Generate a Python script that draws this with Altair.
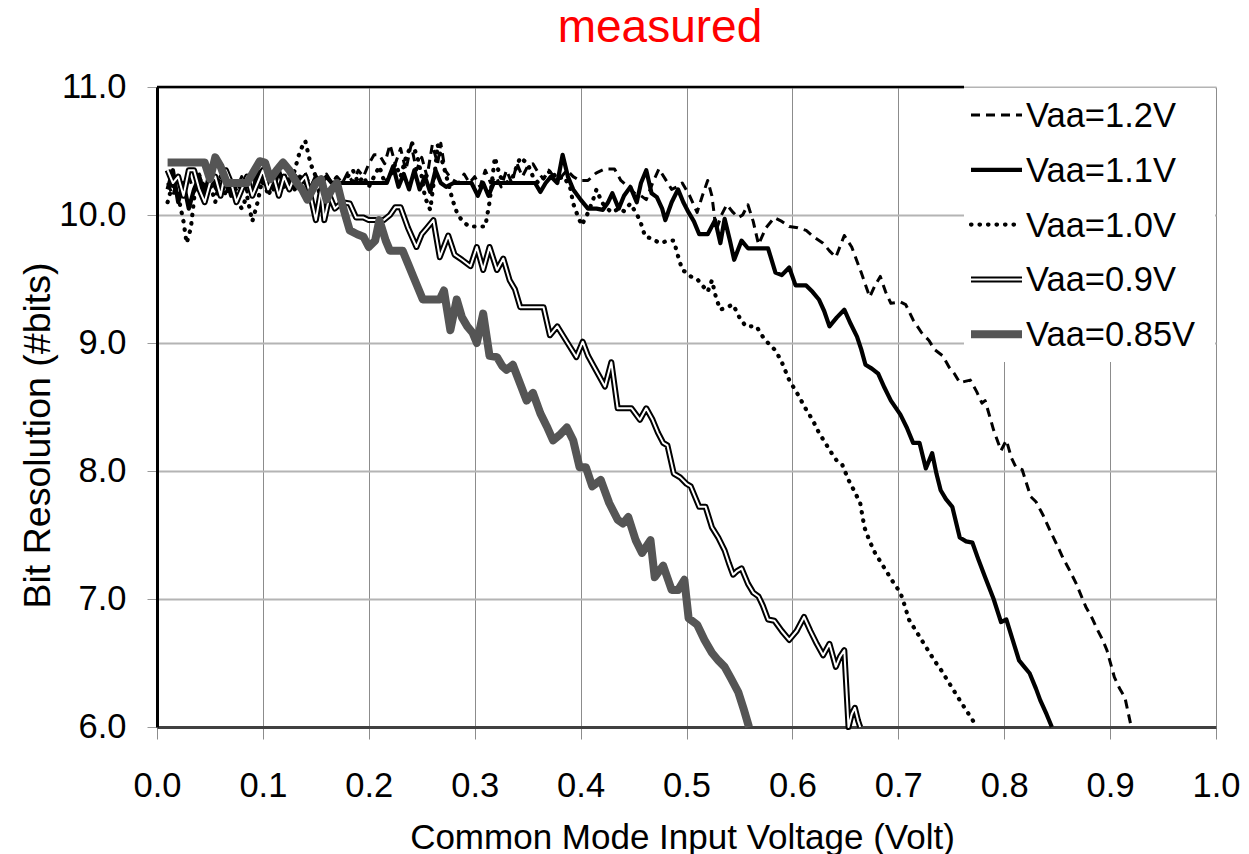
import altair as alt
import pandas as pd

# ---------------- data ----------------
chart_title = "measured"
x_ticks = [0.0, 0.1, 0.2, 0.3, 0.4, 0.5, 0.6, 0.7, 0.8, 0.9, 1.0]
y_ticks = [6.0, 7.0, 8.0, 9.0, 10.0, 11.0]
series_names = ["Vaa=1.2V", "Vaa=1.1V", "Vaa=1.0V", "Vaa=0.9V", "Vaa=0.85V"]

vaa_12 = [(0.010,10.25),(0.015,10.15),(0.020,10.30),(0.025,10.20),(0.030,10.30),(0.035,10.18),(0.040,10.32),(0.045,10.22),
          (0.050,10.35),(0.055,10.20),(0.060,10.30),(0.065,10.18),(0.070,10.28),(0.075,10.20),(0.080,10.30),(0.085,10.18),
          (0.090,10.32),(0.095,10.22),(0.100,10.35),(0.105,10.20),(0.110,10.30),(0.115,10.22),(0.120,10.33),(0.125,10.22),
          (0.130,10.30),(0.135,10.25),(0.140,10.33),(0.145,10.22),(0.150,10.30),(0.155,10.25),(0.160,10.32),(0.165,10.25),
          (0.170,10.30),(0.175,10.25),(0.180,10.33),(0.185,10.25),(0.190,10.35),(0.195,10.30),(0.200,10.40),(0.205,10.47),
          (0.210,10.47),(0.215,10.40),(0.220,10.55),(0.225,10.40),(0.230,10.52),(0.235,10.35),(0.240,10.55),(0.245,10.35),
          (0.250,10.45),(0.255,10.30),(0.260,10.55),(0.265,10.40),(0.268,10.56),(0.272,10.35),(0.278,10.28),(0.285,10.25),
          (0.290,10.32),(0.295,10.25),(0.300,10.30),(0.305,10.22),(0.310,10.35),(0.315,10.25),(0.320,10.30),(0.325,10.22),
          (0.330,10.35),(0.335,10.25),(0.340,10.40),(0.345,10.30),(0.350,10.38),(0.355,10.40),(0.360,10.33),(0.365,10.28),
          (0.370,10.35),(0.375,10.30),(0.380,10.28),(0.387,10.35),(0.393,10.30),(0.399,10.27),(0.407,10.27),(0.415,10.33),
          (0.423,10.36),(0.432,10.36),(0.438,10.27),(0.445,10.22),(0.451,10.17),(0.457,10.15),(0.462,10.12),(0.468,10.25),
          (0.474,10.36),(0.480,10.28),(0.486,10.20),(0.491,10.22),(0.496,10.25),(0.503,10.15),(0.510,10.02),(0.515,10.15),
          (0.520,10.27),(0.524,10.15),(0.528,9.88),(0.533,10.00),(0.538,10.08),(0.544,10.02),(0.549,9.98),(0.553,10.00),
          (0.558,10.08),(0.563,9.95),(0.568,9.77),(0.575,9.90),(0.583,9.98),(0.590,9.95),(0.597,9.91),(0.605,9.90),
          (0.613,9.88),(0.620,9.83),(0.629,9.78),(0.635,9.72),(0.641,9.67),(0.649,9.84),(0.656,9.75),(0.665,9.55),
          (0.673,9.36),(0.678,9.45),(0.683,9.52),(0.688,9.40),(0.693,9.31),(0.702,9.32),(0.707,9.30),(0.714,9.18),
          (0.722,9.08),(0.729,9.02),(0.734,8.95),(0.742,8.90),(0.748,8.81),(0.753,8.76),(0.758,8.69),(0.763,8.70),
          (0.768,8.71),(0.774,8.62),(0.779,8.53),(0.782,8.55),(0.790,8.32),(0.797,8.16),(0.802,8.24),(0.807,8.10),
          (0.811,8.03),(0.817,8.01),(0.825,7.80),(0.830,7.76),(0.837,7.65),(0.843,7.54),(0.850,7.42),(0.855,7.33),
          (0.862,7.22),(0.868,7.12),(0.877,6.94),(0.883,6.85),(0.888,6.76),(0.893,6.68),(0.897,6.60),(0.904,6.39),
          (0.909,6.30),(0.914,6.23),(0.920,6.00)]

vaa_11 = [(0.010,10.20),(0.015,10.35),(0.020,10.10),(0.025,10.25),(0.030,10.05),(0.035,10.20),(0.040,10.30),(0.045,10.15),
          (0.050,10.35),(0.055,10.22),(0.060,10.15),(0.065,10.30),(0.070,10.15),(0.075,10.25),(0.080,10.20),(0.085,10.30),
          (0.090,10.15),(0.095,10.35),(0.100,10.25),(0.105,10.30),(0.110,10.20),(0.115,10.35),(0.120,10.22),(0.125,10.28),
          (0.130,10.20),(0.135,10.30),(0.140,10.25),(0.145,10.20),(0.150,10.30),(0.155,10.25),(0.160,10.30),(0.165,10.25),
          (0.170,10.25),(0.180,10.25),(0.190,10.25),(0.200,10.25),(0.210,10.25),(0.217,10.25),(0.223,10.38),(0.228,10.22),
          (0.233,10.32),(0.238,10.20),(0.243,10.35),(0.248,10.20),(0.253,10.30),(0.258,10.18),(0.263,10.35),(0.268,10.25),
          (0.273,10.22),(0.280,10.25),(0.290,10.25),(0.297,10.25),(0.303,10.15),(0.308,10.25),(0.313,10.15),(0.318,10.25),
          (0.330,10.25),(0.340,10.25),(0.350,10.25),(0.357,10.25),(0.362,10.18),(0.367,10.25),(0.372,10.30),(0.378,10.25),
          (0.383,10.47),(0.388,10.30),(0.393,10.20),(0.400,10.12),(0.407,10.05),(0.415,10.05),(0.421,10.04),(0.426,10.10),
          (0.430,10.17),(0.436,10.05),(0.441,10.15),(0.447,10.22),(0.453,10.10),(0.457,10.25),(0.462,10.35),(0.467,10.17),
          (0.472,10.14),(0.477,10.05),(0.480,9.96),(0.486,10.10),(0.492,10.20),(0.497,10.10),(0.502,10.02),(0.507,9.95),
          (0.512,9.85),(0.520,9.85),(0.527,9.96),(0.532,9.78),(0.536,9.97),(0.541,9.80),(0.545,9.65),(0.552,9.80),
          (0.558,9.74),(0.568,9.74),(0.577,9.74),(0.584,9.55),(0.590,9.53),(0.597,9.59),(0.603,9.45),(0.613,9.45),
          (0.619,9.40),(0.625,9.34),(0.630,9.25),(0.635,9.13),(0.642,9.20),(0.649,9.26),(0.655,9.15),(0.661,9.05),
          (0.665,8.95),(0.669,8.83),(0.675,8.80),(0.681,8.76),(0.687,8.65),(0.693,8.55),(0.702,8.44),(0.708,8.34),
          (0.714,8.22),(0.720,8.22),(0.726,8.02),(0.732,8.14),(0.736,7.98),(0.740,7.85),(0.745,7.78),(0.751,7.72),
          (0.758,7.48),(0.764,7.45),(0.770,7.44),(0.776,7.30),(0.782,7.17),(0.790,7.00),(0.797,6.82),(0.802,6.84),
          (0.808,6.68),(0.814,6.52),(0.819,6.47),(0.824,6.42),(0.830,6.30),(0.834,6.21),(0.840,6.10),(0.845,6.00)]

vaa_10 = [(0.010,10.10),(0.015,10.25),(0.020,10.15),(0.025,9.95),(0.028,9.78),(0.032,9.90),(0.036,10.20),(0.040,10.30),
          (0.045,10.15),(0.050,10.25),(0.055,10.10),(0.060,10.30),(0.065,10.15),(0.070,10.28),(0.075,10.12),(0.080,10.05),
          (0.085,10.15),(0.090,9.95),(0.095,10.10),(0.100,10.30),(0.105,10.15),(0.110,10.25),(0.115,10.15),(0.120,10.30),
          (0.125,10.20),(0.130,10.35),(0.135,10.50),(0.140,10.58),(0.145,10.40),(0.150,10.30),(0.155,10.10),(0.158,9.96),
          (0.163,10.15),(0.168,10.30),(0.175,10.25),(0.180,10.30),(0.185,10.35),(0.190,10.25),(0.195,10.30),(0.200,10.22),
          (0.205,10.30),(0.210,10.38),(0.215,10.25),(0.220,10.30),(0.225,10.40),(0.230,10.30),(0.235,10.45),(0.241,10.56),
          (0.246,10.45),(0.250,10.30),(0.253,10.14),(0.258,10.04),(0.262,10.30),(0.265,10.55),(0.270,10.40),(0.275,10.25),
          (0.279,10.12),(0.284,10.00),(0.290,9.94),(0.295,9.91),(0.303,9.91),(0.310,9.91),(0.314,10.10),(0.319,10.45),
          (0.324,10.30),(0.330,10.25),(0.336,10.30),(0.343,10.45),(0.350,10.40),(0.355,10.30),(0.360,10.25),(0.366,10.30),
          (0.372,10.35),(0.378,10.28),(0.384,10.30),(0.390,10.22),(0.393,10.09),(0.397,10.00),(0.401,9.92),(0.406,10.00),
          (0.411,10.10),(0.415,10.20),(0.420,10.10),(0.425,10.05),(0.430,10.02),(0.436,10.05),(0.441,10.03),(0.447,10.09),
          (0.452,10.02),(0.456,9.96),(0.461,9.83),(0.466,9.82),(0.470,9.80),(0.476,9.78),(0.482,9.80),(0.488,9.80),
          (0.492,9.68),(0.496,9.57),(0.500,9.55),(0.504,9.52),(0.510,9.50),(0.516,9.44),(0.520,9.40),(0.524,9.49),
          (0.528,9.35),(0.532,9.26),(0.538,9.28),(0.544,9.30),(0.550,9.20),(0.556,9.13),(0.566,9.13),(0.572,9.05),
          (0.577,9.00),(0.583,8.95),(0.589,8.87),(0.597,8.71),(0.605,8.60),(0.613,8.48),(0.619,8.40),(0.625,8.30),
          (0.631,8.22),(0.637,8.14),(0.642,8.08),(0.647,8.05),(0.653,7.93),(0.658,7.85),(0.664,7.75),(0.668,7.56),
          (0.673,7.45),(0.678,7.36),(0.684,7.28),(0.690,7.20),(0.696,7.12),(0.702,7.05),(0.706,6.95),(0.710,6.84),
          (0.716,6.76),(0.722,6.68),(0.728,6.60),(0.734,6.52),(0.740,6.45),(0.746,6.37),(0.752,6.29),(0.758,6.21),
          (0.765,6.12),(0.772,6.03),(0.774,6.00)]

vaa_09 = [(0.010,10.35),(0.015,10.25),(0.020,10.30),(0.025,10.15),(0.030,10.35),(0.035,10.35),(0.040,10.20),(0.045,10.10),
          (0.050,10.25),(0.055,10.30),(0.060,10.15),(0.065,10.35),(0.070,10.25),(0.075,10.10),(0.080,10.20),(0.085,10.30),
          (0.090,10.15),(0.095,10.25),(0.100,10.35),(0.105,10.20),(0.110,10.30),(0.115,10.15),(0.120,10.30),(0.125,10.20),
          (0.130,10.30),(0.135,10.25),(0.140,10.30),(0.145,10.15),(0.150,9.96),(0.155,10.20),(0.158,9.96),(0.163,10.15),
          (0.168,10.05),(0.175,10.10),(0.182,10.09),(0.188,9.98),(0.195,9.98),(0.200,9.96),(0.214,9.96),(0.220,10.00),
          (0.225,10.06),(0.230,10.06),(0.237,9.90),(0.245,9.75),(0.250,9.85),(0.255,9.90),(0.261,9.96),(0.267,9.67),
          (0.275,9.84),(0.281,9.69),(0.288,9.65),(0.296,9.60),(0.302,9.75),(0.308,9.57),(0.314,9.75),(0.321,9.57),
          (0.327,9.66),(0.333,9.49),(0.338,9.42),(0.343,9.28),(0.355,9.28),(0.365,9.28),(0.371,9.06),(0.378,9.13),
          (0.387,9.01),(0.396,8.89),(0.402,9.01),(0.407,8.90),(0.411,8.84),(0.417,8.75),(0.423,8.66),(0.429,8.85),
          (0.435,8.49),(0.442,8.49),(0.448,8.49),(0.456,8.40),(0.462,8.49),(0.468,8.40),(0.473,8.30),(0.478,8.22),
          (0.482,8.20),(0.488,7.98),(0.494,7.95),(0.500,7.90),(0.504,7.88),(0.508,7.80),(0.512,7.72),(0.518,7.72),
          (0.524,7.56),(0.530,7.48),(0.536,7.38),(0.540,7.28),(0.544,7.19),(0.548,7.22),(0.552,7.24),(0.558,7.12),
          (0.563,7.05),(0.568,7.02),(0.572,6.95),(0.577,6.84),(0.583,6.83),(0.590,6.75),(0.597,6.68),(0.604,6.75),
          (0.611,6.86),(0.617,6.75),(0.623,6.65),(0.629,6.56),(0.635,6.65),(0.641,6.47),(0.645,6.55),(0.649,6.60),
          (0.653,6.00),(0.656,6.10),(0.659,6.15),(0.662,6.05),(0.664,6.00)]

vaa_085 = [(0.010,10.41),(0.020,10.41),(0.030,10.41),(0.040,10.41),(0.045,10.41),(0.050,10.28),(0.055,10.45),(0.060,10.38),
           (0.066,10.25),(0.075,10.25),(0.085,10.25),(0.092,10.35),(0.097,10.42),(0.102,10.41),(0.107,10.28),(0.113,10.35),
           (0.119,10.41),(0.125,10.35),(0.132,10.25),(0.137,10.20),(0.142,10.12),(0.150,10.25),(0.155,10.28),(0.160,10.12),
           (0.165,10.20),(0.170,10.25),(0.176,10.05),(0.182,9.88),(0.189,9.85),(0.195,9.83),(0.200,9.75),(0.206,9.80),
           (0.210,9.96),(0.216,9.80),(0.220,9.72),(0.226,9.72),(0.232,9.72),(0.237,9.62),(0.242,9.52),(0.247,9.42),
           (0.251,9.34),(0.259,9.34),(0.267,9.34),(0.271,9.41),(0.277,9.10),(0.283,9.34),(0.288,9.20),(0.293,9.13),
           (0.298,9.08),(0.302,9.00),(0.308,9.23),(0.314,8.90),(0.321,8.89),(0.326,8.82),(0.330,8.79),(0.336,8.83),
           (0.343,8.68),(0.349,8.55),(0.355,8.61),(0.362,8.45),(0.368,8.35),(0.374,8.24),(0.380,8.28),(0.387,8.34),
           (0.393,8.24),(0.399,8.03),(0.405,8.03),(0.411,7.88),(0.419,7.93),(0.427,7.75),(0.435,7.62),(0.440,7.59),
           (0.445,7.64),(0.452,7.46),(0.458,7.36),(0.466,7.46),(0.470,7.17),(0.478,7.26),(0.486,7.07),(0.492,7.07),
           (0.498,7.15),(0.502,6.85),(0.510,6.80),(0.517,6.68),(0.524,6.58),(0.530,6.52),(0.536,6.47),(0.542,6.38),
           (0.549,6.27),(0.554,6.14),(0.559,6.00)]

# ---------------- chart ----------------
FONT = "Liberation Sans"
PLOT_W, PLOT_H = 1059, 640


def frame(pts, name):
    return pd.DataFrame({"v": [p[0] for p in pts], "bits": [p[1] for p in pts], "series": name})


X = alt.X(
    "v:Q",
    scale=alt.Scale(domain=[0, 1], nice=False, zero=False),
    axis=alt.Axis(
        values=x_ticks, format=".1f", title="Common Mode Input Voltage (Volt)",
        grid=True, gridColor="#8c8c8c", gridWidth=1,
        ticks=True, tickColor="#8c8c8c", tickSize=12, tickWidth=1,
        domainColor="#404040", domainWidth=3,
        labelFontSize=34.5, labelPadding=30, labelColor="black", labelFont=FONT,
        labelFlush=False, labelOverlap=False,
        titleFontSize=35, titleFont=FONT, titleFontWeight="normal", titleColor="black",
        titleX=525, titleY=121, titleBaseline="alphabetic", titleAlign="center",
    ),
)
Y = alt.Y(
    "bits:Q",
    scale=alt.Scale(domain=[6, 11], nice=False, zero=False),
    axis=alt.Axis(
        values=y_ticks, format=".1f", title="Bit Resolution (#bits)",
        grid=True, gridColor="#b4b4b4", gridWidth=2,
        ticks=True, tickColor="#9a9a9a", tickSize=10, tickWidth=1,
        domainColor="black", domainWidth=3,
        labelFontSize=34.5, labelPadding=21, labelColor="black", labelFont=FONT,
        labelFlush=False, labelOverlap=False,
        titleFontSize=37.5, titleFont=FONT, titleFontWeight="normal", titleColor="black",
        titleX=-119, titleY=348, titleAngle=-90, titleBaseline="middle", titleAlign="center",
    ),
)

one = pd.DataFrame({"k": [0]})

# chart title as a text mark above the plot
title_layer = alt.Chart(pd.DataFrame({"t": [chart_title]})).mark_text(
    align="center", baseline="alphabetic", font=FONT, fontSize=46, color="red"
).encode(x=alt.value(503), y=alt.value(-45), text="t:N")

# white legend background (covers the grid, like the original)
legend_bg = alt.Chart(one).mark_rect(fill="white", stroke=None).encode(
    x=alt.value(807), x2=alt.value(1058), y=alt.value(1), y2=alt.value(275)
)
# black top border left of the legend
top_border = alt.Chart(one).mark_rule(color="black", strokeWidth=2.5).encode(
    x=alt.value(0), x2=alt.value(807), y=alt.value(0)
)

styles = [
    [dict(color="black", strokeWidth=3, strokeDash=[9, 6])],
    [dict(color="black", strokeWidth=4.2)],
    [dict(color="black", strokeWidth=4.2, strokeDash=[0.5, 8], strokeCap="round")],
    [dict(color="black", strokeWidth=6), dict(color="white", strokeWidth=2)],
    [dict(color="#555555", strokeWidth=8)],
]
data_sets = [vaa_12, vaa_11, vaa_10, vaa_09, vaa_085]

layers = [legend_bg, top_border]
for name, pts, st in zip(series_names, data_sets, styles):
    df = frame(pts, name)
    for s in st:
        layers.append(
            alt.Chart(df).mark_line(strokeJoin="round", **s).encode(x=X, y=Y, order="v:Q")
        )

# manual legend (needed for the double-line symbol)
for i, (name, st) in enumerate(zip(series_names, styles)):
    ry = 28 + i * 54.8
    for s in st:
        layers.append(
            alt.Chart(one).mark_rule(**s).encode(
                x=alt.value(814), x2=alt.value(865), y=alt.value(ry)
            )
        )
    layers.append(
        alt.Chart(pd.DataFrame({"label": [name]})).mark_text(
            align="left", baseline="middle", font=FONT, fontSize=34.5, color="black"
        ).encode(x=alt.value(869), y=alt.value(ry + 2), text="label:N")
    )

layers.append(title_layer)

chart = alt.layer(*layers).properties(
    width=PLOT_W,
    height=PLOT_H,
    autosize=alt.AutoSizeParams(type="none"),
    padding={"left": 157, "top": 87, "right": 33, "bottom": 127},
).configure_view(stroke=None)

chart.save("out.html", embed_options={"renderer": "svg", "actions": False})
